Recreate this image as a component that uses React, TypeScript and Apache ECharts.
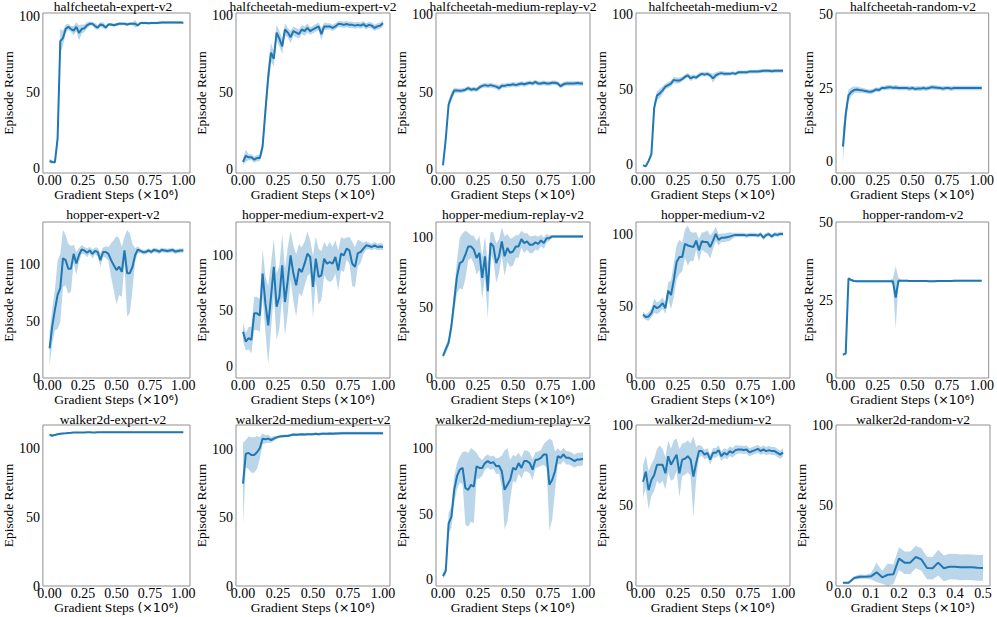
import { useEffect, useRef } from "react";
import * as echarts from "echarts";

const STEPS = [0, 0.02, 0.04, 0.06, 0.08, 0.1, 0.12, 0.14, 0.16, 0.18, 0.2, 0.22, 0.24, 0.26, 0.28, 0.3, 0.32, 0.34, 0.36, 0.38, 0.4, 0.42, 0.44, 0.46, 0.48, 0.5, 0.52, 0.54, 0.56, 0.58, 0.6, 0.62, 0.64, 0.66, 0.68, 0.7, 0.72, 0.74, 0.76, 0.78, 0.8, 0.82, 0.84, 0.86, 0.88, 0.9, 0.92, 0.94, 0.96, 0.98, 1.0];
const STEPS_RANDOM = [0, 0.02, 0.04, 0.06, 0.08, 0.1, 0.12, 0.14, 0.16, 0.18, 0.2, 0.22, 0.24, 0.26, 0.28, 0.3, 0.32, 0.34, 0.36, 0.38, 0.4, 0.42, 0.44, 0.46, 0.48, 0.5];

const TICKS_1E6 = [0, 0.25, 0.5, 0.75, 1];
const TICKS_1E5 = [0, 0.1, 0.2, 0.3, 0.4, 0.5];
const Y_TICKS_100 = [0, 50, 100];
const Y_TICKS_50 = [0, 25, 50];

const HC_EXPERT_MEAN = [5, 4.4, 4.2, 20, 84, 86, 92, 93.5, 92, 91,
  93.5, 89.5, 92, 92.5, 94.5, 95.5, 95.5, 94, 93, 95,
  94.5, 93, 95, 95, 94.5, 95, 95.5, 95.5, 95.5, 95,
  95.5, 95.5, 95.5, 94.5, 96, 96, 96, 95.8, 96, 96,
  96, 96.2, 96.3, 96.3, 96.3, 96.3, 96.3, 96.3, 96.3, 96.3, 96.2];
const HC_EXPERT_STD = [1.5, 1, 1, 5, 8, 5, 3, 2, 2, 3,
  3, 5, 3, 2.5, 2, 1.5, 1, 2, 1.5, 1.5,
  2, 1.5, 1, 1, 1, 1, 1, 1, 1, 1,
  1, 1, 2.5, 1, 0.8, 0.8, 0.8, 0.8, 0.8, 0.8,
  0.8, 0.8, 0.8, 0.8, 0.8, 0.8, 0.8, 0.8, 0.8, 0.8, 0.8];

const HC_MEDEXP_MEAN = [5, 9, 8, 8, 6.5, 7.5, 7.5, 15, 38, 60,
  76, 72, 89, 85, 80, 91, 89, 86, 90, 89,
  88, 91, 90, 92, 90, 91, 92, 93, 88, 93,
  93, 93, 92, 93, 94.5, 94.5, 94, 94.5, 94, 94,
  93.5, 94, 93.5, 94.5, 93, 94, 93.5, 92, 93, 93.5, 95];
const HC_MEDEXP_STD = [2, 4, 2, 2, 2, 2, 2, 4, 6, 8,
  6, 5, 5, 5, 5, 4, 3, 4, 3, 3,
  3, 3, 3, 3, 2.5, 2.5, 2.5, 2.5, 4, 2.5,
  2, 2, 2, 2, 2, 2, 2, 2, 2, 2,
  2, 2, 2, 2, 2, 2, 2, 2, 2, 2, 2];

const HC_MEDREP_MEAN = [2.8, 20, 42, 47, 51, 51, 50.8, 51, 51.5, 52.5,
  51.5, 52, 51.5, 53, 54, 54.5, 54, 54.5, 54, 53.5,
  52.5, 54, 54, 54.5, 54.5, 55, 54.5, 55, 55.5, 55,
  55.5, 56, 55.5, 56.5, 55.5, 55.5, 56, 55.5, 55.5, 56,
  56, 55.5, 53.8, 55, 55.5, 55.5, 55.5, 55.5, 55.8, 55.5, 55.5];
const HC_MEDREP_STD = [1, 2, 3, 3, 2, 1.5, 1.5, 1.5, 1.5, 1.5,
  1.5, 1.5, 1.5, 1.5, 1.5, 1.5, 1.5, 1.5, 1.5, 1.5,
  2, 1.5, 1.5, 1.5, 1.5, 1.5, 1.5, 1.5, 1.5, 1.5,
  1.5, 1.5, 1.5, 1.5, 1.5, 1.5, 1.5, 1.5, 1.5, 1.5,
  1.5, 1.5, 1.5, 1.5, 1.5, 1.5, 1.5, 1.5, 1.5, 1.5, 1.5];

const HC_MED_MEAN = [-0.4, -1, 2.5, 7, 38, 46, 47.5, 49.5, 52, 53,
  54, 56.5, 56, 56, 57, 58.5, 59.5, 57.5, 58.5, 58,
  59.5, 60.5, 60, 60.5, 59.5, 57.5, 59.5, 60.5, 61, 60.5,
  60.5, 60.5, 61, 60.5, 61.5, 61.5, 61.5, 61.5, 62, 62,
  62, 62, 62.3, 62.5, 62.5, 62.5, 62.3, 62.5, 62.5, 62.5, 62.5];
const HC_MED_STD = [0.5, 0.5, 1, 2, 4, 3, 3, 2.5, 2, 2,
  2, 2, 2, 2, 1.5, 1.5, 1.5, 2, 1.5, 1.5,
  1.5, 1.5, 1.5, 1.5, 1.5, 3, 2, 1.5, 1.5, 1.5,
  1.2, 1.2, 1.2, 1.2, 1.2, 1.2, 1.2, 1.2, 1.2, 1.2,
  1.2, 1.2, 1.2, 1.2, 1.2, 1.2, 1.2, 1.2, 1.2, 1.2, 1.2];

const HC_RAND_MEAN = [5, 16, 22.5, 23.7, 24.3, 24.5, 24.3, 24.2, 24, 23.8,
  23.7, 24, 24.5, 24.3, 25, 25, 25.2, 25.3, 25.1, 25.2,
  25, 25, 25, 25, 24.8, 25, 24.7, 24.8, 24.8, 25,
  24.8, 25, 25.3, 25.2, 25.1, 25, 24.8, 25, 25, 24.8,
  25, 25, 25, 25, 25, 25, 25, 25, 25, 25, 25];
const HC_RAND_STD = [6, 3, 2, 1.5, 1.2, 1, 1, 0.8, 0.8, 0.8,
  0.8, 0.8, 0.8, 0.8, 0.8, 0.8, 0.8, 0.8, 0.8, 0.8,
  0.8, 0.8, 0.8, 0.8, 0.8, 0.8, 0.8, 0.8, 0.8, 0.8,
  0.8, 0.8, 0.8, 0.8, 0.8, 0.8, 0.8, 0.8, 0.8, 0.8,
  0.8, 0.8, 0.8, 0.8, 0.8, 0.8, 0.8, 0.8, 0.8, 0.8, 0.8];

const HOP_EXPERT_MEAN = [26, 45.5, 60, 73, 79, 105, 103.5, 96, 96, 109,
  100.6, 108, 112.8, 112, 110, 112, 109, 111.6, 110.7, 103.5,
  110.7, 110.7, 109, 103.5, 99, 94.8, 97.7, 93.3, 112, 92,
  92, 97.7, 108, 112.8, 111.6, 110.5, 110.7, 112, 110.7, 112.5,
  112, 111, 112.5, 112, 111.5, 112, 112.5, 111, 111.5, 112, 112];
const HOP_EXPERT_STD = [15, 15, 18, 30, 30, 25, 22, 22, 20, 8,
  10, 6, 4, 3, 4, 3, 4, 3, 4, 6,
  4, 5, 6, 15, 22, 30, 25, 22, 12, 38,
  35, 20, 6, 3, 2, 2, 2, 2, 2, 2,
  2, 2, 2, 2, 2, 2, 2, 2, 2, 2, 2];

const HOP_MEDEXP_MEAN = [31.3, 22.4, 25.4, 23.9, 47.8, 47.8, 46, 83.6, 56.7, 37,
  62.7, 89.6, 53.7, 62.7, 91, 58, 77.6, 100, 83.6, 73,
  88, 85, 92.5, 101.5, 98.5, 71.6, 97, 80.6, 82, 97,
  92.5, 94, 92.5, 98.5, 86.6, 101.5, 100, 106, 104.5, 92.5,
  89.6, 102, 103, 106, 109, 108.4, 107.5, 109, 107.5, 108, 107.5];
const HOP_MEDEXP_STD = [8, 8, 10, 12, 15, 15, 15, 22, 25, 35,
  30, 25, 30, 28, 28, 30, 30, 22, 25, 28,
  22, 22, 20, 20, 15, 28, 20, 25, 22, 15,
  15, 18, 15, 15, 18, 15, 15, 10, 12, 20,
  18, 12, 10, 5, 4, 3, 3, 3, 3, 3, 3];

const HOP_MEDREP_MEAN = [15.8, 20.5, 25.2, 37, 54.7, 72.4, 81.8, 83, 87.7, 93.6,
  93.6, 91.3, 85.4, 89, 71.2, 86.6, 61.8, 96, 93.6, 81.8,
  86.6, 97.2, 86.6, 92.5, 89, 90, 93.6, 93.6, 98.8, 96,
  97.2, 94.8, 94.8, 96.5, 95.5, 97.9, 96, 99.5, 99.5, 100.7,
  100.7, 100.7, 100.7, 100.7, 100.7, 100.7, 100.7, 100.7, 100.7, 100.7, 100.7];
const HOP_MEDREP_STD = [2, 3, 3, 5, 8, 12, 18, 20, 17, 10,
  8, 10, 12, 12, 15, 14, 20, 8, 10, 14,
  12, 10, 14, 10, 10, 10, 8, 8, 6, 7,
  6, 6, 6, 5, 5, 4, 4, 3, 2, 1,
  1, 1, 1, 1, 1, 1, 1, 1, 1, 1, 1];

const HOP_MED_MEAN = [44.2, 42.6, 43, 45.4, 50.5, 48.8, 50, 52.3, 48.8, 61,
  58, 68.4, 81, 84.6, 84.6, 93.8, 92.6, 92, 91.5, 96,
  89.2, 95.6, 95, 95, 91.5, 96, 100.7, 96.5, 98, 98,
  98.4, 98.8, 99.5, 100, 100, 100, 100, 99.5, 100, 100,
  100, 99.5, 100.5, 98, 100, 100.5, 98.8, 100.5, 100, 100.7, 100.7];
const HOP_MED_STD = [2, 2, 3, 3, 5, 4, 4, 4, 4, 6,
  10, 12, 12, 12, 10, 10, 14, 10, 10, 6,
  8, 6, 7, 8, 8, 6, 5, 4, 3, 3,
  3, 3, 2, 1.5, 1.5, 1.5, 1.5, 1.5, 1.5, 1.5,
  1.5, 1.5, 1.5, 1.5, 1.5, 1.5, 1.5, 1.5, 1.5, 1.5, 1.5];

const HOP_RAND_MEAN = [7.4, 7.9, 31.9, 31.4, 31.1, 31, 31, 31, 31, 31,
  31, 31, 31, 31, 31, 31, 31, 31, 31, 25.8,
  31.2, 31.2, 31.2, 31.2, 31.1, 31.1, 31.1, 31.1, 31.1, 31.1,
  31.1, 31, 31, 31, 31.1, 31.1, 31.1, 31.1, 31.1, 31.1,
  31.2, 31.2, 31.2, 31.2, 31.2, 31.2, 31.2, 31.2, 31.2, 31.2, 31.2];
const HOP_RAND_STD = [0.3, 0.3, 0.5, 0.4, 0.3, 0.3, 0.3, 0.3, 0.3, 0.3,
  0.3, 0.3, 0.3, 0.3, 0.3, 0.3, 0.3, 0.3, 1, 10,
  1, 0.3, 0.3, 0.3, 0.3, 0.3, 0.3, 0.3, 0.3, 0.3,
  0.3, 0.3, 0.3, 0.3, 0.3, 0.3, 0.3, 0.3, 0.3, 0.3,
  0.3, 0.3, 0.3, 0.3, 0.3, 0.3, 0.3, 0.3, 0.3, 0.3, 0.3];

const W_EXP_MEAN = [110, 109.2, 109.8, 110.3, 110.6, 110.9, 111, 111.2, 111.3, 111.5,
  111.5, 111.6, 111.5, 111.6, 111.7, 111.7, 111.6, 111.6, 111.8, 111.7,
  111.8, 111.8, 111.8, 111.8, 111.8, 111.8, 111.8, 111.8, 111.8, 111.8,
  111.8, 111.8, 111.8, 111.8, 111.8, 111.8, 111.8, 111.8, 111.8, 111.8,
  111.8, 111.8, 111.8, 111.8, 111.8, 111.8, 111.8, 111.8, 111.8, 111.8, 111.8];
const W_EXP_STD = [0.8, 1, 0.6, 0.5, 0.4, 0.4, 0.4, 0.4, 0.4, 0.4,
  0.4, 0.4, 0.4, 0.4, 0.4, 0.4, 0.4, 0.4, 0.4, 0.4,
  0.4, 0.4, 0.4, 0.4, 0.4, 0.4, 0.4, 0.4, 0.4, 0.4,
  0.4, 0.4, 0.4, 0.4, 0.4, 0.4, 0.4, 0.4, 0.4, 0.4,
  0.4, 0.4, 0.4, 0.4, 0.4, 0.4, 0.4, 0.4, 0.4, 0.4, 0.4];

const W_MEDEXP_MEAN = [75, 97, 97.5, 96, 96, 98, 101, 108, 107.5, 108,
  107, 108, 109, 109.5, 109.8, 110, 110, 110.5, 111, 110.8,
  111, 111.2, 111, 111.3, 111.2, 111.3, 111.5, 111.3, 111.5, 111.6,
  111.5, 111.7, 111.6, 111.8, 111.8, 112, 112, 112, 112, 112,
  112, 112, 112, 112, 112, 112, 112, 112, 112, 112, 112];
const W_MEDEXP_STD = [30, 10, 12, 13, 13, 12, 8, 4, 3, 3,
  2, 2, 1, 1, 1, 1, 1, 1, 1, 1,
  1, 1, 1, 1, 1, 1, 1, 1, 1, 1,
  1, 1, 1, 1, 1, 1, 1, 1, 1, 1,
  1, 1, 1, 1, 1, 1, 1, 1, 1, 1, 1];

const W_MEDREP_MEAN = [3, 7, 43, 48, 68.6, 79, 84, 85.3, 70, 68.6,
  72.5, 71, 86.6, 85.3, 85.3, 89, 90.5, 89, 89.7, 86.6,
  87, 82.8, 68.6, 72.5, 76.3, 85.3, 84, 89, 85.3, 90.5,
  90.5, 89, 84, 91.3, 91.8, 93, 95.6, 95.6, 72.5, 76.3,
  82.8, 94.3, 93, 95.6, 93, 93, 91.8, 90.5, 91.8, 91.8, 92.3];
const W_MEDREP_STD = [2, 3, 8, 8, 10, 10, 10, 12, 28, 28,
  28, 28, 10, 8, 6, 5, 5, 5, 5, 6,
  6, 12, 30, 28, 15, 10, 10, 8, 8, 8,
  8, 8, 8, 6, 6, 6, 8, 10, 35, 30,
  15, 6, 5, 5, 5, 5, 5, 5, 5, 5, 5];

const W_MED_MEAN = [64.8, 71, 59.5, 65.8, 69, 75.3, 75.3, 75.3, 70, 80.6,
  75.3, 78.5, 81.6, 70, 78.5, 79, 80.6, 78.5, 68, 76.4,
  83.8, 83.8, 81.6, 82.7, 78.5, 82.7, 82.7, 84.4, 80.6, 82.7,
  81.6, 83.8, 82.7, 84.4, 84.8, 84.8, 84.5, 84.8, 83, 83.8,
  84.4, 85.2, 83.8, 84.8, 83.8, 84.4, 83.8, 83.8, 82.7, 81.6, 83];
const W_MED_STD = [10, 10, 12, 10, 10, 10, 12, 10, 10, 10,
  10, 12, 10, 15, 10, 10, 10, 10, 25, 10,
  4, 3, 3, 3, 3, 3, 3, 3, 3, 3,
  3, 3, 3, 3, 2.5, 2.5, 2.5, 2.5, 2.5, 2.5,
  2.5, 2.5, 2.5, 2.5, 2.5, 2.5, 2.5, 2.5, 2.5, 2.5, 2.5];

const W_RAND_MEAN = [2, 2, 5, 5.8, 5.7, 6, 8.5, 5.4, 7, 7.3,
  17, 14.5, 14.5, 18, 16.5, 11.2, 11, 14.5, 11, 12,
  12, 11.6, 11.7, 11.6, 11.3, 11.2];
const W_RAND_STD = [0.5, 0.7, 1, 1.5, 1.2, 2, 6, 4, 7, 6,
  7, 7, 7, 7, 7, 7, 7, 8, 8, 8,
  8, 8, 8, 8, 8, 8];

const PANELS = [
  { title: "halfcheetah-expert-v2", x: STEPS, mean: HC_EXPERT_MEAN, std: HC_EXPERT_STD, yMin: -2.9, yMax: 102.6, yTicks: Y_TICKS_100 },
  { title: "halfcheetah-medium-expert-v2", x: STEPS, mean: HC_MEDEXP_MEAN, std: HC_MEDEXP_STD, yMin: -2.2, yMax: 101.7, yTicks: Y_TICKS_100 },
  { title: "halfcheetah-medium-replay-v2", x: STEPS, mean: HC_MEDREP_MEAN, std: HC_MEDREP_STD, yMin: -2.2, yMax: 101, yTicks: Y_TICKS_100 },
  { title: "halfcheetah-medium-v2", x: STEPS, mean: HC_MED_MEAN, std: HC_MED_STD, yMin: -5.5, yMax: 101, yTicks: Y_TICKS_100 },
  { title: "halfcheetah-random-v2", x: STEPS, mean: HC_RAND_MEAN, std: HC_RAND_STD, yMin: -4, yMax: 50.6, yTicks: Y_TICKS_50 },
  { title: "hopper-expert-v2", x: STEPS, mean: HOP_EXPERT_MEAN, std: HOP_EXPERT_STD, yMin: 0, yMax: 137, yTicks: Y_TICKS_100 },
  { title: "hopper-medium-expert-v2", x: STEPS, mean: HOP_MEDEXP_MEAN, std: HOP_MEDEXP_STD, yMin: -10.4, yMax: 130, yTicks: Y_TICKS_100 },
  { title: "hopper-medium-replay-v2", x: STEPS, mean: HOP_MEDREP_MEAN, std: HOP_MEDREP_STD, yMin: 0, yMax: 111, yTicks: Y_TICKS_100 },
  { title: "hopper-medium-v2", x: STEPS, mean: HOP_MED_MEAN, std: HOP_MED_STD, yMin: 0, yMax: 109, yTicks: Y_TICKS_100 },
  { title: "hopper-random-v2", x: STEPS, mean: HOP_RAND_MEAN, std: HOP_RAND_STD, yMin: 0, yMax: 50, yTicks: Y_TICKS_50 },
  { title: "walker2d-expert-v2", x: STEPS, mean: W_EXP_MEAN, std: W_EXP_STD, yMin: 0, yMax: 117, yTicks: Y_TICKS_100 },
  { title: "walker2d-medium-expert-v2", x: STEPS, mean: W_MEDEXP_MEAN, std: W_MEDEXP_STD, yMin: 0, yMax: 118, yTicks: Y_TICKS_100 },
  { title: "walker2d-medium-replay-v2", x: STEPS, mean: W_MEDREP_MEAN, std: W_MEDREP_STD, yMin: -4.6, yMax: 118, yTicks: Y_TICKS_100 },
  { title: "walker2d-medium-v2", x: STEPS, mean: W_MED_MEAN, std: W_MED_STD, yMin: 0, yMax: 100, yTicks: Y_TICKS_100 },
  { title: "walker2d-random-v2", x: STEPS_RANDOM, mean: W_RAND_MEAN, std: W_RAND_STD, yMin: 0, yMax: 100, yTicks: Y_TICKS_100, small: true },
];

const SERIF = "'Liberation Serif', 'Times New Roman', serif";
const SANS = "'DejaVu Sans', sans-serif";
const BLUE = "#1f77b4";
const BAND = "rgba(31,119,180,0.3)";

export default function App() {
  const ref = useRef<HTMLDivElement>(null);
  useEffect(() => {
    const chart = echarts.init(ref.current!, null, { renderer: "svg" });
    const colLeft = [36, 236, 436, 636, 836];
    const colW = 154;
    const rowTop = [13, 222, 425];
    const rowH = [160, 156, 161];
    const titleY = [6.5, 214, 419];
    const xNameGap = [9, 13, 12];

    const grids: any[] = [];
    const xAxes: any[] = [];
    const yAxes: any[] = [];
    const series: any[] = [];
    const graphics: any[] = [];

    PANELS.forEach((p: any, i) => {
      const r = Math.floor(i / 5);
      const c = i % 5;
      grids.push({
        left: colLeft[c], top: rowTop[r], width: colW, height: rowH[r],
        show: true, borderColor: "#8f8f8f", borderWidth: 1, backgroundColor: "transparent",
      });
      const small = !!p.small;
      xAxes.push({
        type: "value", gridIndex: i,
        min: small ? -0.025 : -0.05, max: small ? 0.525 : 1.05,
        axisLine: { show: false }, axisTick: { show: false }, splitLine: { show: false },
        axisLabel: {
          customValues: small ? TICKS_1E5 : TICKS_1E6,
          formatter: (v: number) => v.toFixed(small ? 1 : 2),
          fontFamily: SERIF, fontSize: 14, color: "#000", margin: 0,
        },
        name: small ? "{a|Gradient Steps }{b|(×10⁵)}" : "{a|Gradient Steps }{b|(×10⁶)}",
        nameLocation: "middle", nameGap: xNameGap[r],
        nameTextStyle: {
          rich: {
            a: { fontFamily: SERIF, fontSize: 13.5, color: "#000" },
            b: { fontFamily: SANS, fontSize: 12.5, color: "#000" },
          },
        },
      });
      const twoDigit = p.yTicks[p.yTicks.length - 1] < 100;
      yAxes.push({
        type: "value", gridIndex: i, min: p.yMin, max: p.yMax,
        axisLine: { show: false }, axisTick: { show: false }, splitLine: { show: false },
        axisLabel: {
          customValues: p.yTicks, formatter: (v: number) => String(v),
          fontFamily: SERIF, fontSize: 14, color: "#000", margin: 3,
        },
        name: "Episode Return", nameLocation: "middle", nameRotate: 90,
        nameGap: twoDigit ? 16 : 23,
        nameTextStyle: { fontFamily: SERIF, fontSize: 13.5, color: "#000" },
      });
      const xs: number[] = p.x;
      const mean = xs.map((x, k) => [x, p.mean[k]]);
      series.push({
        type: "custom", xAxisIndex: i, yAxisIndex: i, clip: true, silent: true, z: 1,
        data: [[xs[0], p.mean[0]]],
        renderItem: (_params: any, api: any) => {
          const upper = xs.map((x, k) => api.coord([x, p.mean[k] + p.std[k]]));
          const lower = xs.map((x, k) => api.coord([x, p.mean[k] - p.std[k]])).reverse();
          return { type: "polygon", shape: { points: upper.concat(lower) }, style: { fill: BAND } };
        },
      });
      series.push({
        type: "line", xAxisIndex: i, yAxisIndex: i, data: mean, z: 2,
        symbol: "none", lineStyle: { color: BLUE, width: 2 }, silent: true,
      });
      graphics.push({
        type: "text", x: colLeft[c] + colW / 2, y: titleY[r],
        style: { text: p.title, fontFamily: SERIF, fontSize: 13.5, fill: "#000", textAlign: "center", textVerticalAlign: "middle" },
      });
    });

    chart.setOption({
      animation: false,
      backgroundColor: "#fff",
      grid: grids,
      xAxis: xAxes,
      yAxis: yAxes,
      series,
      graphic: graphics,
    });
    return () => chart.dispose();
  }, []);
  return <div ref={ref} style={{ position: "absolute", left: 0, top: 0, width: 997, height: 617 }} />;
}
